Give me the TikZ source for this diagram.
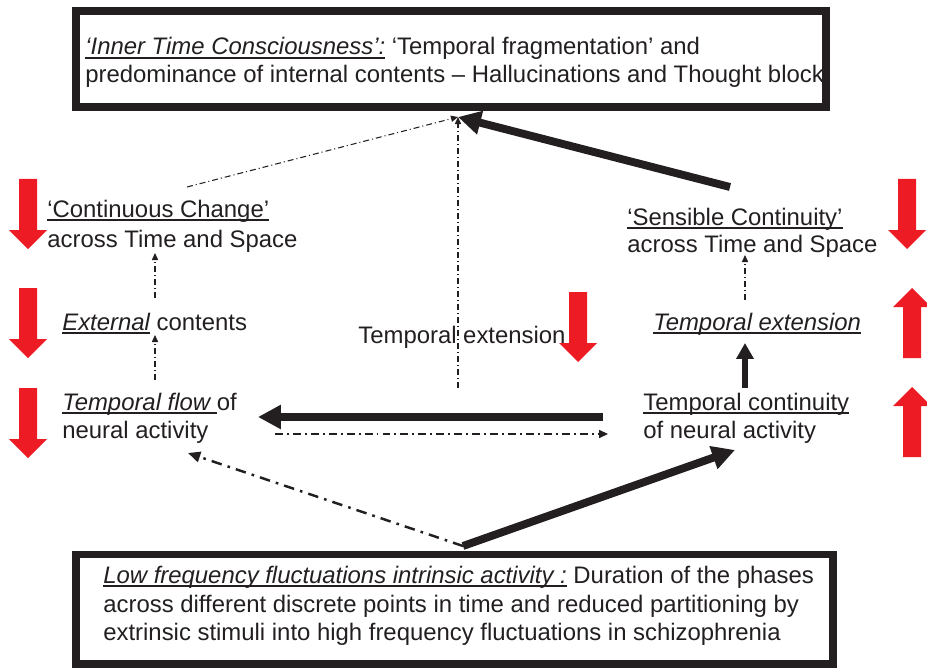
\documentclass[tikz,border=0pt]{standalone}
\usepackage{fontspec}
\setmainfont{Liberation Sans}
\usetikzlibrary{arrows.meta, positioning, calc}
\definecolor{arrowred}{RGB}{237,28,36}
\definecolor{inkblack}{RGB}{35,31,32}
\newcommand{\ulbox}[1]{\setbox0\hbox{#1}\rlap{\rule[-2.2pt]{\wd0}{0.9pt}}\box0\relax}

\tikzset{
  lbl/.style={anchor=base west, inner sep=0pt, text=inkblack, font=\fontsize{13.6pt}{15.9pt}\selectfont},
  framebox/.style={draw=inkblack, line width=4.5pt, inner sep=0pt},
  thin arrow/.style={inkblack, line width=0.6pt, dash pattern=on 3.4pt off 1.7pt on 0.6pt off 1.7pt, -{Triangle[length=4pt,width=3.5pt]}},
  dashdot arrow/.style={inkblack, line width=0.9pt, dash pattern=on 4.5pt off 2.3pt on 1.1pt off 2.3pt, -{Triangle[length=5pt,width=4.5pt]}},
  long dashdot/.style={inkblack, line width=1.4pt, dash pattern=on 6pt off 3.5pt on 1.5pt off 3.5pt, -{Triangle[length=7pt,width=6pt]}},
  bold arrow/.style={inkblack, line width=4.5pt, -{Triangle[length=13pt,width=13pt]}},
  mid arrow/.style={inkblack, line width=3.4pt, -{Triangle[length=9pt,width=9.5pt]}},
  reddown/.pic={\fill[arrowred] (-9,0) -- (9,0) -- (9,51) -- (19,51) -- (0,70) -- (-19,51) -- (-9,51) -- cycle;},
  redup/.pic={\fill[arrowred] (-9,0) -- (9,0) -- (9,-51) -- (19,-51) -- (0,-70) -- (-19,-51) -- (-9,-51) -- cycle;}
}

\begin{document}
\begin{tikzpicture}[x=0.02cm, y=-0.02cm]
    \useasboundingbox (0,0) rectangle (927,669);

    % Inner time consciousness
    \node[framebox, minimum width=15cm, minimum height=1.92cm] (itc) at (451,59) {};
    \node[lbl] (itc1) at (85,55) {\ulbox{\itshape ‘Inner Time Consciousness’:} ‘Temporal fragmentation’ and};
    \node[lbl] (itc2) at (85,83) {predominance of internal contents – Hallucinations and Thought block};

    % Low frequency fluctuations
    \node[framebox, minimum width=15.14cm, minimum height=2.19cm] (lff) at (454.5,609.25) {};
    \node[lbl] (lff1) at (103,583) {\ulbox{\itshape Low frequency fluctuations intrinsic activity :} Duration of the phases};
    \node[lbl] (lff2) at (103,612) {across different discrete points in time and reduced partitioning by};
    \node[lbl] (lff3) at (103,640) {extrinsic stimuli into high frequency fluctuations in schizophrenia};

    % left column
    \node[lbl] (chg1) at (47,217) {\ulbox{‘Continuous Change’}};
    \node[lbl] (chg2) at (47,247) {across Time and Space};
    \node[lbl] (ext) at (62,330) {\ulbox{\itshape External} contents};
    \node[lbl] (flow1) at (62,410) {\ulbox{\itshape Temporal flow\ }of};
    \node[lbl] (flow2) at (62,438) {neural activity};

    % middle
    \node[lbl] (midext) at (358,343) {Temporal extension};

    % right column
    \node[lbl] (sens1) at (627,225) {\ulbox{‘Sensible Continuity’}};
    \node[lbl] (sens2) at (627,253) {across Time and Space};
    \node[lbl] (rext) at (653,330) {\ulbox{\itshape Temporal extension}};
    \node[lbl] (cont1) at (643,410) {\ulbox{Temporal continuity}};
    \node[lbl] (cont2) at (643,438) {of neural activity};

    % arrow ends
    \coordinate (hub) at (458,117);
    \coordinate (chgtop) at (187,187);
    \coordinate (midfoot) at (458,388);
    \coordinate (senstop) at (730,187);
    \coordinate (lowsrc) at (463,546);

    % Arrows
    \draw[thin arrow] (chgtop) -- (hub);
    \draw[thin arrow] (midfoot) -- (hub);
    \draw[bold arrow] (senstop) -- (hub);
    \draw[thin arrow] (155,298) -- (155,253);
    \draw[thin arrow] (155,380) -- (155,335);
    \draw[thin arrow] (745,300) -- (745,255);
    \draw[mid arrow] (745,388) -- (745,343);
    \draw[bold arrow] (603,417) -- (258,417);
    \draw[dashdot arrow] (275,434) -- (608,434);
    \draw[bold arrow] (lowsrc) -- (735,450);
    \draw[long dashdot] (lowsrc) -- (188,453);

    % red arrows
    \pic at (28,179) {reddown};
    \pic at (28,288) {reddown};
    \pic at (28,388) {reddown};
    \pic at (578,292) {reddown};
    \pic at (907,179) {reddown};
    \pic at (912,358) {redup};
    \pic at (912,457) {redup};
\end{tikzpicture}
\end{document}
